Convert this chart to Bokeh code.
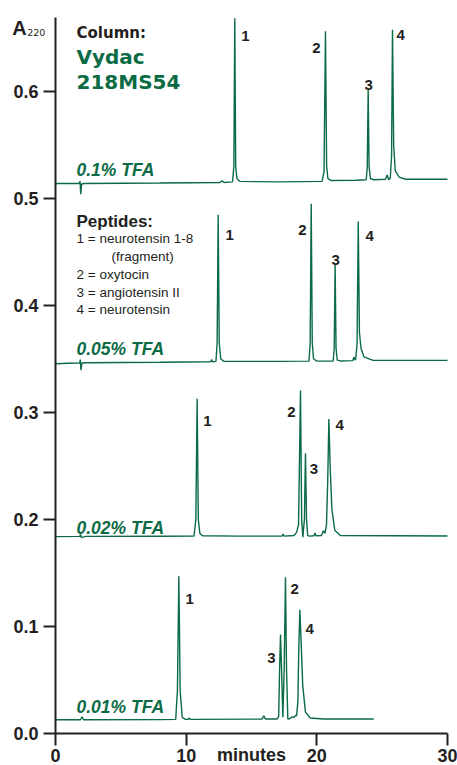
from bokeh.plotting import figure
from bokeh.models import Range1d, FixedTicker, NumeralTickFormatter, Label, LinearAxis
from bokeh.embed import file_html
from bokeh.resources import INLINE

# ---------------- data ----------------
# retention time (min) and absorbance at 220 nm for each TFA concentration
t_010 = [0.0, 1.80, 1.88, 1.93, 2.00, 2.2, 8.0, 12.6, 12.75, 12.9, 13.55, 13.65, 13.72, 13.79, 13.88, 14.1,
         17.0, 20.40, 20.55, 20.66, 20.75, 20.85, 21.1, 23.0, 23.78, 23.86, 23.93, 24.00, 24.1, 24.4,
         25.25, 25.38, 25.5, 25.62, 25.72, 25.79, 25.88, 26.0, 26.3, 26.8, 30.0]
a_010 = [0.5140, 0.5140, 0.5160, 0.5040, 0.5135, 0.5140, 0.5145, 0.5150, 0.5165, 0.5150, 0.5155, 0.5300,
         0.6685, 0.5300, 0.5190, 0.5160, 0.5155, 0.5160, 0.5250, 0.6564, 0.5300, 0.5185, 0.5168, 0.5170,
         0.5175, 0.5300, 0.6016, 0.5300, 0.5185, 0.5175, 0.5180, 0.5220, 0.5175, 0.5190, 0.5400, 0.6577,
         0.5500, 0.5260, 0.5200, 0.5180, 0.5180]

t_005 = [0.0, 1.0, 1.85, 1.90, 1.95, 2.02, 2.3, 8.0, 11.88, 11.95, 12.02, 12.28, 12.37, 12.45, 12.53, 12.65,
         12.9, 17.0, 19.40, 19.49, 19.57, 19.65, 19.75, 20.0, 21.25, 21.33, 21.40, 21.47, 21.56, 21.8,
         22.75, 22.83, 22.92, 22.98, 23.08, 23.17, 23.26, 23.38, 23.6, 24.3, 30.0]
a_005 = [0.3455, 0.3460, 0.3462, 0.3495, 0.3395, 0.3462, 0.3465, 0.3470, 0.3475, 0.3495, 0.3475, 0.3478,
         0.3650, 0.4848, 0.3650, 0.3500, 0.3478, 0.3478, 0.3480, 0.3650, 0.4950, 0.3650, 0.3500, 0.3480,
         0.3482, 0.3600, 0.4380, 0.3600, 0.3490, 0.3482, 0.3485, 0.3518, 0.3490, 0.3500, 0.3650, 0.4785,
         0.3750, 0.3600, 0.3520, 0.3487, 0.3487]

t_002 = [0.0, 1.85, 1.92, 1.97, 2.3, 8.0, 10.60, 10.74, 10.84, 10.93, 11.05, 11.25, 14.0, 17.35, 17.42,
         17.50, 18.25, 18.45, 18.60, 18.75, 18.84, 18.93, 19.05, 19.13, 19.21, 19.30, 19.45, 19.78, 19.85,
         19.93, 20.35, 20.50, 20.62, 20.74, 20.84, 20.92, 21.02, 21.15, 21.37, 21.8, 30.0]
a_002 = [0.1840, 0.1842, 0.1860, 0.1830, 0.1842, 0.1844, 0.1845, 0.2000, 0.3128, 0.2000, 0.1870, 0.1848,
         0.1845, 0.1845, 0.1865, 0.1845, 0.1850, 0.1880, 0.1950, 0.3206, 0.2000, 0.1835, 0.2000, 0.2620,
         0.2000, 0.1850, 0.1845, 0.1848, 0.1875, 0.1848, 0.1850, 0.1895, 0.1870, 0.1950, 0.2400, 0.2940,
         0.2500, 0.2100, 0.1900, 0.1850, 0.1846]

t_001 = [0.0, 1.9, 2.04, 2.15, 8.0, 9.20, 9.33, 9.44, 9.54, 9.70, 9.95, 10.15, 10.22, 10.3, 15.8, 15.94,
         16.08, 16.95, 17.08, 17.15, 17.22, 17.30, 17.40, 17.50, 17.60, 17.68, 17.78, 17.95, 18.11, 18.25,
         18.37, 18.45, 18.55, 18.62, 18.70, 18.80, 18.92, 19.13, 19.5, 20.5, 24.36]
a_001 = [0.0128, 0.0128, 0.0155, 0.0128, 0.0130, 0.0132, 0.0400, 0.1470, 0.0400, 0.0150, 0.0132, 0.0132,
         0.0145, 0.0132, 0.0135, 0.0165, 0.0135, 0.0135, 0.0160, 0.0600, 0.0925, 0.0600, 0.0152, 0.0600,
         0.1460, 0.0600, 0.0135, 0.0140, 0.0155, 0.0150, 0.0170, 0.0165, 0.0300, 0.0800, 0.1156, 0.0850,
         0.0450, 0.0200, 0.0145, 0.0135, 0.0135]

x_ticks = [0, 10, 20, 30]
y_ticks = [0.0, 0.1, 0.2, 0.3, 0.4, 0.5, 0.6]
x_extent = (0, 30)
y_extent = (0, 0.669)

tfa_labels = ["0.1% TFA", "0.05% TFA", "0.02% TFA", "0.01% TFA"]
peptides = ["1 = neurotensin 1-8", "(fragment)", "2 = oxytocin", "3 = angiotensin II", "4 = neurotensin"]
peak_names = ["1", "2", "3", "4"]

# ---------------- styling / layout ----------------
GREEN = "#0b6b45"
DARK = "#231f20"
SANS = "Liberation Sans"
WIDE = "DejaVu Sans"

# the frame fills the whole canvas; the axes are drawn at fixed data positions inside it
p = figure(width=457, height=765, min_border=0,
           x_range=Range1d(-4.209, 30.765), y_range=Range1d(-0.0299, 0.68505),
           x_axis_type=None, y_axis_type=None,
           output_backend="svg", toolbar_location=None, tools="")
p.outline_line_color = None
p.background_fill_color = "white"
p.border_fill_color = "white"

xax = LinearAxis(fixed_location=0, bounds=x_extent, ticker=FixedTicker(ticks=x_ticks))
yax = LinearAxis(fixed_location=0, bounds=y_extent, ticker=FixedTicker(ticks=y_ticks),
                 formatter=NumeralTickFormatter(format="0.0"))
for ax in (xax, yax):
    ax.axis_line_width = 2
    ax.axis_line_color = DARK
    ax.major_tick_line_width = 2
    ax.major_tick_line_color = DARK
    ax.major_tick_out = 12
    ax.major_tick_in = 0
    ax.minor_tick_line_color = None
    ax.major_label_text_font = SANS
    ax.major_label_text_font_style = "bold"
    ax.major_label_text_font_size = "18px"
    ax.major_label_text_color = DARK
xax.major_label_standoff = 3
yax.major_label_standoff = 5
p.add_layout(xax, "below")
p.add_layout(yax, "left")

for t, a in ((t_010, a_010), (t_005, a_005), (t_002, a_002), (t_001, a_001)):
    p.line(t, a, line_color=GREEN, line_width=1.4, line_join="bevel")


def lab(text, x, y, size, color=DARK, font=SANS, style="normal", align="left"):
    p.add_layout(Label(x=x, y=y, text=text, text_font=font, text_font_size=size,
                       text_font_style=style, text_color=color, text_align=align,
                       text_baseline="alphabetic"))


# axis titles
lab("A", -3.31, 0.6595, "20px", style="bold")
lab("220", -2.17, 0.6549, "9.5px", font=WIDE)
lab("minutes", 15.0, -0.0198, "18px", style="bold", align="center")

# column info
lab("Column:", 1.607, 0.6551, "15px", font=WIDE, style="bold")
lab("Vydac", 1.607, 0.6327, "20px", color=GREEN, font=WIDE, style="bold")
lab("218MS54", 1.607, 0.6087, "20px", color=GREEN, font=WIDE, style="bold")

# peptide legend
lab("Peptides:", 1.607, 0.4788, "17px", style="bold")
pep_x = [1.607, 4.286, 1.607, 1.607, 1.607]
pep_y = [0.4623, 0.4458, 0.4293, 0.4126, 0.3960]
for s, x, y in zip(peptides, pep_x, pep_y):
    lab(s, x, y, "13.5px")

# TFA labels
tfa_y = [0.5262, 0.3595, 0.1925, 0.0246]
for s, y in zip(tfa_labels, tfa_y):
    lab(s, 1.607, y, "17.5px", color=GREEN, style="bold italic")

# peak number labels
peak_pos = [
    [(14.21, 0.6523), (19.65, 0.6405), (23.65, 0.6063), (26.10, 0.6530)],
    [(13.01, 0.4661), (18.57, 0.4707), (21.12, 0.4421), (23.73, 0.4654)],
    [(11.30, 0.2919), (17.73, 0.3003), (19.46, 0.2474), (21.43, 0.2885)],
    [(9.95, 0.1259), (17.98, 0.1346), (16.20, 0.0704), (19.13, 0.0979)],
]
for row in peak_pos:
    for name, (x, y) in zip(peak_names, row):
        lab(name, x, y, "15px", style="bold")

open("out.html", "w").write(file_html(p, INLINE))
